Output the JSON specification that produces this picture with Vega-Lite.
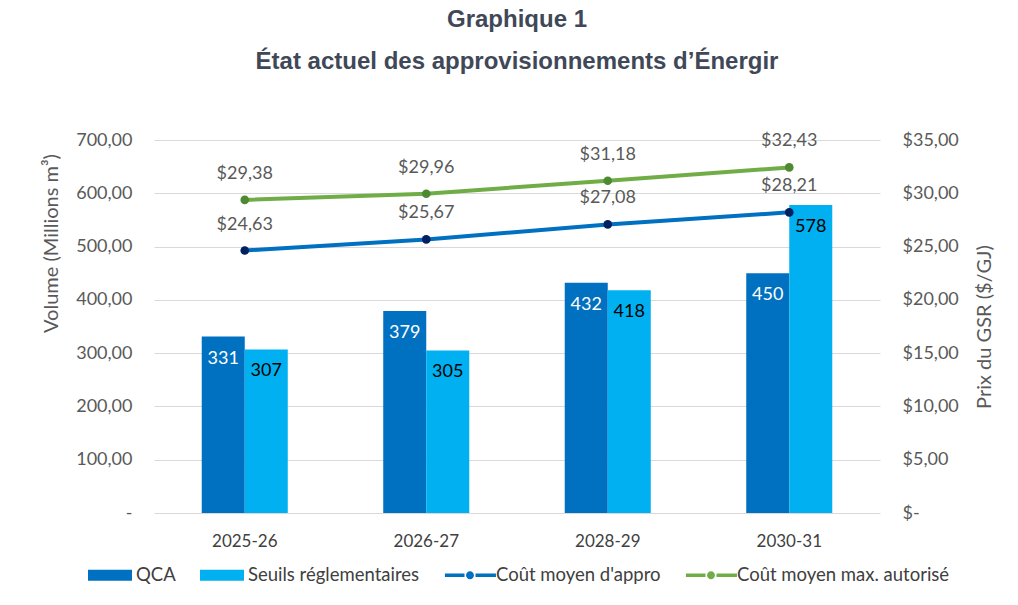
{
  "$schema": "https://vega.github.io/schema/vega-lite/v6.json",
  "autosize": {"type": "none"},
  "padding": {"left": 154, "top": 140, "right": 138, "bottom": 92},
  "width": 726,
  "height": 373,
  "background": "white",
  "title": {
    "text": "Graphique 1",
    "subtitle": "État actuel des approvisionnements d’Énergir",
    "anchor": "middle",
    "font": "Liberation Sans",
    "fontSize": 24,
    "fontWeight": "bold",
    "color": "#404858",
    "subtitleFont": "Liberation Sans",
    "subtitleFontSize": 24,
    "subtitleFontWeight": "bold",
    "subtitleColor": "#404858",
    "subtitlePadding": 18,
    "offset": 57
  },
  "datasets": {
    "volumes": [
      {"annee": "2025-26", "serie": "QCA", "volume": 331},
      {"annee": "2025-26", "serie": "Seuils réglementaires", "volume": 307},
      {"annee": "2026-27", "serie": "QCA", "volume": 379},
      {"annee": "2026-27", "serie": "Seuils réglementaires", "volume": 305},
      {"annee": "2028-29", "serie": "QCA", "volume": 432},
      {"annee": "2028-29", "serie": "Seuils réglementaires", "volume": 418},
      {"annee": "2030-31", "serie": "QCA", "volume": 450},
      {"annee": "2030-31", "serie": "Seuils réglementaires", "volume": 578}
    ],
    "prix": [
      {"annee": "2025-26", "serie": "Coût moyen d'appro", "prix": 24.63},
      {"annee": "2026-27", "serie": "Coût moyen d'appro", "prix": 25.67},
      {"annee": "2028-29", "serie": "Coût moyen d'appro", "prix": 27.08},
      {"annee": "2030-31", "serie": "Coût moyen d'appro", "prix": 28.21},
      {"annee": "2025-26", "serie": "Coût moyen max. autorisé", "prix": 29.38},
      {"annee": "2026-27", "serie": "Coût moyen max. autorisé", "prix": 29.96},
      {"annee": "2028-29", "serie": "Coût moyen max. autorisé", "prix": 31.18},
      {"annee": "2030-31", "serie": "Coût moyen max. autorisé", "prix": 32.43}
    ]
  },
  "layer": [
    {
      "data": {"name": "volumes"},
      "encoding": {
        "x": {
          "field": "annee",
          "type": "nominal",
          "sort": null,
          "scale": {"paddingInner": 0.526, "paddingOuter": 0.263},
          "axis": {
            "title": null,
            "labelAngle": 0,
            "ticks": false,
            "domain": false,
            "grid": false,
            "labelFont": "Lato",
            "labelFontSize": 17,
            "labelColor": "#404040",
            "labelPadding": 20
          }
        },
        "xOffset": {
          "field": "serie",
          "type": "nominal",
          "sort": ["QCA", "Seuils réglementaires"],
          "scale": {"paddingInner": 0, "paddingOuter": 0}
        },
        "y": {
          "field": "volume",
          "type": "quantitative",
          "scale": {"domain": [0, 700], "nice": false},
          "axis": {
            "title": "Volume (Millions m³)",
            "values": [0, 100, 200, 300, 400, 500, 600, 700],
            "format": ".2f",
            "labelExpr": "datum.value === 0 ? '-' : datum.label",
            "ticks": false,
            "domain": false,
            "grid": true,
            "gridColor": "#d9d9d9",
            "gridWidth": 1,
            "labelFont": "Lato",
            "labelFontSize": 18,
            "labelColor": "#595959",
            "labelPadding": 22,
            "titleFont": "Lato",
            "titleFontSize": 20,
            "titleFontWeight": "normal",
            "titleColor": "#595959",
            "titlePadding": 14,
            "titleY": 103,
            "titleAlign": "center"
          }
        }
      },
      "layer": [
        {
          "mark": {"type": "bar"},
          "encoding": {
            "color": {
              "field": "serie",
              "type": "nominal",
              "scale": {
                "domain": ["QCA", "Seuils réglementaires", "Coût moyen d'appro", "Coût moyen max. autorisé"],
                "range": ["#0070C0", "#00B0F0", "#0070C0", "#70AD47"]
              },
              "legend": {
                "orient": "none",
                "legendX": -55,
                "legendY": 424,
                "padding": 0,
                "direction": "horizontal",
                "title": null,
                "symbolSize": 484,
                "symbolStrokeWidth": 0,
                "labelOffset": 15,
                "columnPadding": 24,
                "labelLimit": 400,
                "labelFont": "Lato",
                "labelFontSize": 18.5,
                "labelColor": "#404040",
                "encode": {
                  "symbols": {
                    "update": {
                      "shape": {"signal": "(datum.value === 'QCA' || datum.value === 'Seuils réglementaires') ? 'M-2,-0.5H2V0.5H-2Z' : 'M-2.28,-0.17H-0.5V0.17H-2.28ZM0.5,-0.17H2.36V0.17H0.5ZM-0.36,0A0.36,0.36,0,1,1,0.36,0A0.36,0.36,0,1,1,-0.36,0Z'"},
                      "fill": {"signal": "datum.value === 'QCA' ? '#0070C0' : datum.value === 'Seuils réglementaires' ? '#00B0F0' : datum.value === 'Coût moyen max. autorisé' ? '#70AD47' : '#0070C0'"},
                      "strokeWidth": {"value": 0},
                      "opacity": {"value": 1},
                      "fillOpacity": {"value": 1}
                    }
                  }
                }
              }
            }
          }
        },
        {
          "mark": {"type": "text", "baseline": "middle", "dy": 22, "font": "Lato", "fontSize": 18},
          "encoding": {
            "text": {"field": "volume", "type": "quantitative", "format": "d"},
            "color": {
              "condition": {"test": "datum.serie === 'QCA'", "value": "white"},
              "value": "black"
            }
          }
        }
      ]
    },
    {
      "data": {"name": "prix"},
      "encoding": {
        "x": {"field": "annee", "type": "nominal", "sort": null},
        "y": {
          "field": "prix",
          "type": "quantitative",
          "scale": {"domain": [0, 35], "nice": false},
          "axis": {
            "orient": "right",
            "title": "Prix du GSR ($/GJ)",
            "values": [0, 5, 10, 15, 20, 25, 30, 35],
            "format": "$.2f",
            "labelExpr": "datum.value === 0 ? '$-' : datum.label",
            "ticks": false,
            "domain": false,
            "grid": false,
            "labelFont": "Lato",
            "labelFontSize": 18,
            "labelColor": "#595959",
            "labelPadding": 22,
            "titleFont": "Lato",
            "titleFontSize": 20,
            "titleFontWeight": "normal",
            "titleColor": "#595959",
            "titlePadding": 36,
            "titleAngle": 270
          }
        }
      },
      "layer": [
        {
          "mark": {"type": "line", "strokeWidth": 4},
          "encoding": {
            "color": {"field": "serie", "type": "nominal"}
          }
        },
        {
          "mark": {"type": "circle", "size": 75, "opacity": 1},
          "encoding": {
            "fill": {
              "condition": {"test": "datum.serie === 'Coût moyen max. autorisé'", "value": "#4E8A32"},
              "value": "#002060"
            }
          }
        },
        {
          "mark": {"type": "text", "baseline": "middle", "dy": -26, "font": "Lato", "fontSize": 18, "color": "#595959"},
          "encoding": {
            "text": {"field": "prix", "type": "quantitative", "format": "$.2f"}
          }
        }
      ]
    }
  ],
  "resolve": {"scale": {"y": "independent"}},
  "config": {
    "view": {"stroke": null},
    "locale": {
      "number": {"decimal": ",", "thousands": " ", "grouping": [3], "currency": ["$", ""]}
    }
  }
}
